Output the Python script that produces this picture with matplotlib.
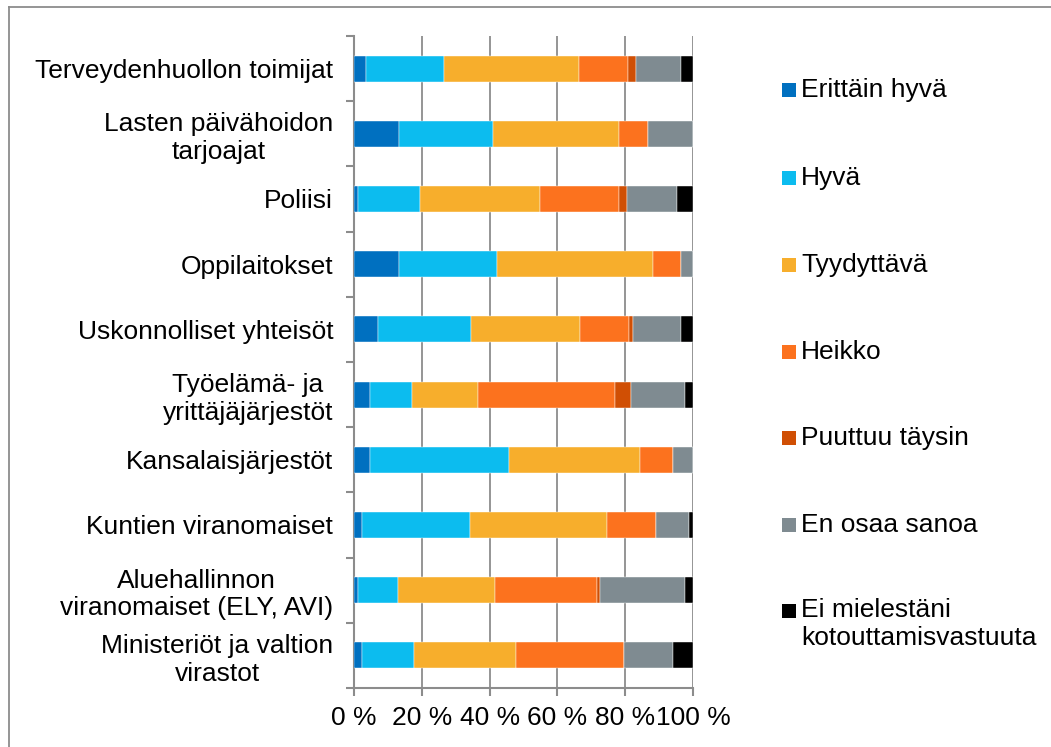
import numpy as np
import matplotlib
matplotlib.use("Agg")
import matplotlib.pyplot as plt
import matplotlib.patches as patches
from matplotlib.lines import Line2D

plt.rcParams['font.family'] = ['Liberation Sans', 'DejaVu Sans']

categories = [
    "Terveydenhuollon toimijat",
    "Lasten päivähoidon\ntarjoajat",
    "Poliisi",
    "Oppilaitokset",
    "Uskonnolliset yhteisöt",
    "Työelämä- ja\nyrittäjäjärjestöt",
    "Kansalaisjärjestöt",
    "Kuntien viranomaiset",
    "Aluehallinnon\nviranomaiset (ELY, AVI)",
    "Ministeriöt ja valtion\nvirastot",
]

series_names = [
    "Erittäin hyvä",
    "Hyvä",
    "Tyydyttävä",
    "Heikko",
    "Puuttuu täysin",
    "En osaa sanoa",
    "Ei mielestäni\nkotouttamisvastuuta",
]

# shares in percent, one list per answer option, rows in category order
erittain_hyva = [3.6, 13.3, 1.2, 13.3, 7.2, 4.8, 4.8, 2.4, 1.2, 2.4]
hyva = [23.0, 27.7, 18.3, 28.9, 27.3, 12.2, 41.0, 31.8, 11.8, 15.3]
tyydyttava = [39.7, 37.3, 35.4, 45.9, 32.1, 19.6, 38.6, 40.3, 28.7, 30.0]
heikko = [14.4, 8.5, 23.2, 8.3, 14.5, 40.3, 9.6, 14.5, 30.0, 32.0]
puuttuu = [2.4, 0.0, 2.3, 0.0, 1.1, 4.8, 0.0, 0.0, 0.9, 0.0]
en_osaa = [13.4, 13.2, 14.8, 3.6, 14.3, 15.9, 6.0, 9.8, 25.1, 14.5]
ei_vastuuta = [3.5, 0.0, 4.8, 0.0, 3.5, 2.4, 0.0, 1.2, 2.3, 5.8]

xticks = [0, 20, 40, 60, 80, 100]
xtick_labels = ["0 %", "20 %", "40 %", "60 %", "80 %", "100 %"]

colors = ["#0070C0", "#0CBCEF", "#F7AE2C", "#FC721E", "#D04F04", "#7F8B91", "#000000"]
grey = "#8c8c8c"
fs = 19

W, H = 1051, 747
fig = plt.figure(figsize=(W / 100, H / 100), dpi=100)
ax = fig.add_axes([354 / W, (H - 688) / H, 339 / W, 652 / H])

series = [erittain_hyva, hyva, tyydyttava, heikko, puuttuu, en_osaa, ei_vastuuta]
y = np.arange(len(categories))
left = np.zeros(len(categories))
for vals, col in zip(series, colors):
    vals = np.array(vals)
    ax.barh(y, vals, left=left, height=0.4, color=col,
            edgecolor="white", linewidth=0.3, zorder=3)
    left += vals

ax.set_xlim(0, 100)
ax.set_ylim(len(categories) - 0.5, -0.5)

ax.set_xticks(xticks)
ax.set_xticklabels(xtick_labels, fontsize=fs)
ax.set_yticks(y)
ax.set_yticklabels(categories, fontsize=fs, multialignment="center")
ax.set_yticks(np.arange(len(categories) + 1) - 0.5, minor=True)
ax.tick_params(axis="y", which="major", length=0, pad=15)
ax.tick_params(axis="y", which="minor", length=6, width=1.5, color=grey, direction="out")
ax.tick_params(axis="x", length=6, width=1.5, color=grey, pad=7)

ax.grid(axis="x", color=grey, linewidth=1.3, zorder=0)
for side in ["top", "right"]:
    ax.spines[side].set_visible(False)
for side in ["left", "bottom"]:
    ax.spines[side].set_color(grey)
    ax.spines[side].set_linewidth(1.5)

# legend placed by hand so the two-line entry keeps its marker on the first line
legend_y = [90, 178, 265, 352, 438, 525, 611]
for name, col, ly in zip(series_names, colors, legend_y):
    fig.patches.append(patches.Rectangle((782 / W, (H - ly - 7) / H), 14 / W, 14 / H,
                                         transform=fig.transFigure, facecolor=col,
                                         edgecolor="none"))
    if "\n" in name:
        fig.text(801 / W, (H - ly + 13) / H, name, fontsize=fs, ha="left", va="top",
                 linespacing=1.2)
    else:
        fig.text(801 / W, (H - ly) / H, name, fontsize=fs, ha="left", va="center")

# chart frame, only top and left edges fall inside the image
fig.add_artist(Line2D([9 / W, 9 / W], [0, (H - 7) / H], transform=fig.transFigure,
                      color=grey, linewidth=1.3))
fig.add_artist(Line2D([9 / W, 1], [(H - 7) / H, (H - 7) / H], transform=fig.transFigure,
                      color=grey, linewidth=1.3))

fig.savefig("out.png", dpi=100)
